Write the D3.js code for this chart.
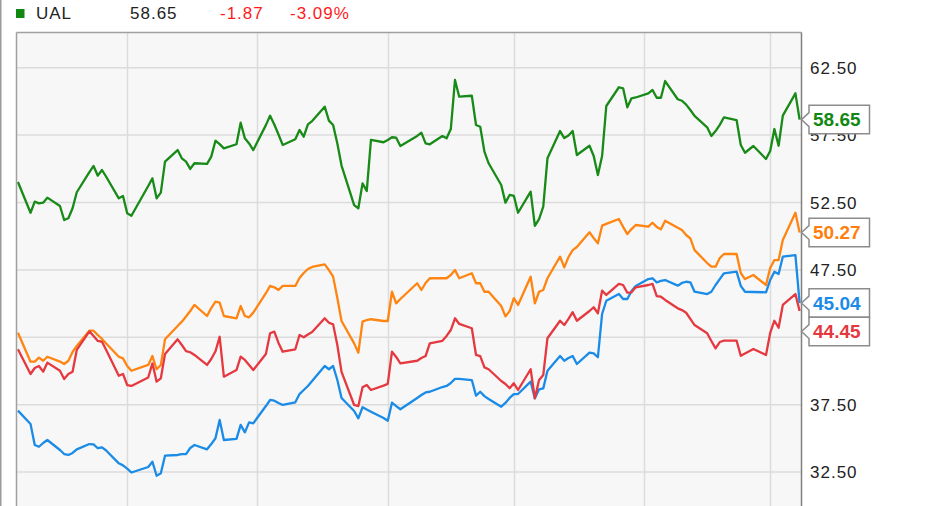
<!DOCTYPE html>
<html><head><meta charset="utf-8">
<script src="https://cdn.jsdelivr.net/npm/d3@7"></script>
<style>
body{margin:0;background:#fff;}
svg{display:block;font-family:Arial,"Liberation Sans",sans-serif;}
</style>
</head><body>
<svg id="c" width="931" height="506"></svg>
<script>
// ---- data ----
const tradingDays = [
 "06-05","06-08","06-09","06-10","06-11","06-12","06-15","06-16","06-17","06-18","06-19","06-22","06-23","06-24","06-25","06-26","06-29","06-30",
 "07-01","07-02","07-06","07-07","07-08","07-09","07-10","07-13","07-14","07-15","07-16","07-17","07-20","07-21","07-22","07-23","07-24","07-27","07-28","07-29","07-30","07-31",
 "08-03","08-04","08-05","08-06","08-07","08-10","08-11","08-12","08-13","08-14","08-17","08-18","08-19","08-20","08-21","08-24","08-25","08-26","08-27","08-28","08-31",
 "09-01","09-02","09-03","09-04","09-08","09-09","09-10","09-11","09-14","09-15","09-16","09-17","09-18","09-21","09-22","09-23","09-24","09-25","09-28","09-29","09-30",
 "10-01","10-02","10-05","10-06","10-07","10-08","10-09","10-12","10-13","10-14","10-15","10-16","10-19","10-20","10-21","10-22","10-23","10-26","10-27","10-28","10-29","10-30",
 "11-02","11-03","11-04","11-05","11-06","11-09","11-10","11-11","11-12","11-13","11-16","11-17","11-18","11-19","11-20","11-23","11-24","11-25","11-27","11-30",
 "12-01","12-02","12-03","12-04","12-07","12-08"
];
const year = 2015;

const greenValues = [
 54.02,51.74,52.56,52.44,52.49,52.86,52.24,51.20,51.33,52.07,53.26,54.76,55.21,54.49,54.91,54.41,52.81,52.98,
 51.70,51.52,53.72,54.29,52.81,53.23,55.53,56.39,55.78,55.53,54.99,55.41,55.36,55.90,57.08,56.83,56.52,56.82,58.42,57.26,56.88,56.39,
 58.24,58.94,58.29,57.54,56.77,57.19,57.88,57.38,58.30,58.54,59.61,58.57,58.25,56.88,55.24,52.31,52.07,53.92,53.35,57.14,56.97,
 57.14,57.34,57.31,56.69,57.44,57.68,56.89,56.82,57.43,57.26,57.95,61.59,60.35,60.42,58.25,58.12,56.27,55.41,53.80,52.49,53.06,
 53.00,51.74,53.30,50.76,51.27,52.19,55.78,57.80,57.28,57.47,57.80,56.02,56.71,55.95,54.54,55.95,59.66,61.05,60.97,59.56,60.23,60.29,
 60.60,60.85,60.27,60.27,61.51,60.16,60.05,59.76,59.36,58.92,58.08,57.43,57.80,58.26,58.82,58.62,56.77,56.19,56.69,55.73,
 56.32,57.95,56.71,58.94,60.60,58.65
];
const orangeValues = [
 42.84,40.69,40.69,40.99,40.76,41.06,40.70,40.52,40.76,41.41,41.86,42.99,42.99,42.67,42.38,42.04,41.06,40.94,
 40.37,40.02,40.45,41.11,40.13,40.45,42.35,43.34,43.66,44.04,44.45,44.90,44.08,44.67,45.14,45.07,44.08,43.91,44.82,44.08,43.98,44.33,
 45.77,46.31,46.21,46.01,46.31,46.31,46.90,47.27,47.57,47.72,47.91,47.49,47.00,45.42,43.71,42.05,41.36,43.66,43.78,43.84,43.71,
 43.71,45.88,45.02,45.34,46.51,46.01,46.53,46.88,46.88,46.88,47.12,47.49,46.88,47.25,46.51,46.51,45.88,45.88,44.82,44.05,44.44,
 45.41,44.90,46.99,45.02,45.88,46.01,46.88,48.48,47.69,48.45,48.97,49.20,50.29,49.86,49.47,50.78,50.91,51.28,50.69,50.16,50.53,50.83,
 50.71,51.00,50.69,50.51,51.15,50.63,50.46,50.09,49.84,48.97,48.01,47.74,47.74,48.38,48.68,48.68,47.27,46.82,47.12,46.38,
 47.64,48.23,48.23,49.72,51.74,50.27
];
const redValues = [
 41.61,39.78,40.22,40.37,39.95,40.62,40.02,39.41,39.78,39.95,41.56,42.94,42.60,42.23,42.17,41.56,39.65,39.78,
 38.96,38.89,39.52,40.57,39.21,39.46,41.26,42.35,41.93,41.48,41.39,41.19,40.45,40.89,41.46,42.54,39.58,40.07,41.06,40.82,40.45,40.07,
 41.26,42.80,42.92,42.08,41.43,41.61,42.67,42.50,42.71,42.89,43.91,43.58,43.46,41.93,39.93,37.48,37.40,38.79,38.96,38.59,38.92,
 39.04,41.43,41.04,40.57,40.76,40.96,41.11,42.05,42.24,42.60,43.04,43.91,43.49,43.17,41.19,41.11,40.27,40.13,39.26,39.04,38.72,
 39.09,38.59,40.13,37.97,39.33,39.70,42.43,43.73,43.41,43.86,44.36,43.73,44.45,44.73,44.28,45.96,45.64,46.46,46.38,45.81,45.84,46.21,
 46.38,46.46,45.56,45.51,45.27,44.65,44.52,44.32,43.86,43.41,42.80,42.23,41.68,42.15,42.25,42.25,41.13,41.30,41.63,41.19,
 42.82,43.73,43.21,44.90,45.71,44.45
];
const blueValues = [
 37.06,36.07,34.51,34.38,34.66,34.88,34.14,33.84,33.77,33.92,34.19,34.58,34.55,34.27,34.34,34.10,33.15,33.00,
 32.76,32.47,32.88,33.27,32.23,32.41,33.72,33.77,33.84,33.84,34.29,34.51,34.19,34.58,35.01,36.37,34.88,34.96,36.00,35.45,36.19,36.12,
 37.40,37.85,37.80,37.63,37.48,37.68,38.29,38.59,38.89,39.26,40.37,40.13,40.37,39.33,38.00,37.03,36.49,37.31,37.14,36.98,36.51,
 36.31,37.65,37.40,37.16,38.00,38.22,38.41,38.46,38.81,38.89,39.11,39.41,39.41,39.33,38.17,38.46,38.14,37.92,37.35,37.63,38.00,
 38.29,38.29,39.21,37.97,38.64,38.71,40.02,41.11,40.76,40.96,41.11,40.52,41.36,41.31,41.02,44.23,45.21,45.71,45.34,45.34,45.93,46.31,
 46.82,46.88,46.58,46.68,46.75,46.33,46.53,46.62,46.58,45.88,45.71,45.88,46.38,46.82,47.25,47.37,46.31,45.88,45.86,45.84,
 46.75,47.37,47.20,48.48,48.60,45.04
];
const yTickValues = [32.5, 37.5, 42.5, 47.5, 52.5, 57.5, 62.5];
const monthStarts = ["2015-07-01","2015-08-01","2015-09-01","2015-10-01","2015-11-01","2015-12-01"];
const header = {symbol: "UAL", last: "58.65", change: "-1.87", pct: "-3.09%"};

const seriesList = [
  {name: "orange", values: orangeValues, color: "#ff8411", text: "#ff7f0e"},
  {name: "blue",   values: blueValues,   color: "#1a8be6", text: "#1a8be6"},
  {name: "red",    values: redValues,    color: "#e5383f", text: "#e5383f"},
  {name: "green",  values: greenValues,  color: "#178a17", text: "#118811"}
];

// ---- layout ----
const W = 931, H = 506;
const plot = {left: 16.5, right: 801.5, top: 32.5, bottom: 510};
const parse = d3.timeParse("%Y-%m-%d");
const dates = tradingDays.map(d => parse(year + "-" + d));
const months = monthStarts.map(parse);

const x = d3.scaleTime()
  .domain([parse("2015-07-01"), parse("2015-12-01")])
  .range([127.2, 770.2]);
const y = d3.scaleLinear().domain([32.5, 62.5]).range([472.1, 67.7]);

const svg = d3.select("#c");

// page left border
svg.append("rect").attr("x", 0).attr("y", 0).attr("width", 1.5).attr("height", H).attr("fill", "#9a9a9a");

// plot background
svg.append("rect").attr("x", plot.left).attr("y", plot.top)
  .attr("width", plot.right - plot.left).attr("height", plot.bottom - plot.top)
  .attr("fill", "#f7f7f7");

// grid
const grid = svg.append("g");
grid.selectAll("line.v").data(months).enter().append("line")
  .attr("x1", d => Math.round(x(d)) + 0.5).attr("x2", d => Math.round(x(d)) + 0.5)
  .attr("y1", plot.top).attr("y2", plot.bottom)
  .attr("stroke", "#dcdcdc").attr("stroke-width", 1.5);
grid.selectAll("line.h").data(yTickValues).enter().append("line")
  .attr("x1", plot.left).attr("x2", plot.right)
  .attr("y1", d => y(d)).attr("y2", d => y(d))
  .attr("stroke", "#dcdcdc").attr("stroke-width", 1.5);

// clip
svg.append("clipPath").attr("id", "clip").append("rect")
  .attr("x", plot.left).attr("y", plot.top)
  .attr("width", plot.right - plot.left).attr("height", plot.bottom - plot.top);

const line = d3.line().x((d, i) => x(dates[i])).y(d => y(d));
const lines = svg.append("g").attr("clip-path", "url(#clip)");
seriesList.forEach(s => {
  lines.append("path").datum(s.values)
    .attr("d", line)
    .attr("fill", "none")
    .attr("stroke", s.color)
    .attr("stroke-width", 2.3)
    .attr("stroke-linejoin", "round");
});

// frame
svg.append("line").attr("x1", plot.left).attr("x2", plot.right).attr("y1", plot.top).attr("y2", plot.top)
  .attr("stroke", "#a0a0a0").attr("stroke-width", 1.5);
svg.append("line").attr("x1", plot.left).attr("x2", plot.left).attr("y1", plot.top).attr("y2", plot.bottom)
  .attr("stroke", "#a0a0a0").attr("stroke-width", 1.5);
svg.append("line").attr("x1", plot.right).attr("x2", plot.right).attr("y1", plot.top).attr("y2", plot.bottom)
  .attr("stroke", "#808080").attr("stroke-width", 1.5);

// y axis labels
svg.append("g").selectAll("text").data(yTickValues).enter().append("text")
  .attr("x", 810).attr("y", d => y(d))
  .attr("dy", "0.36em")
  .attr("font-size", 17).attr("letter-spacing", 1)
  .attr("fill", "#222")
  .text(d => d3.format(".2f")(d));

// price tags
const tagH = 28.5, tagX = 809, tagW = 60.5;
const tags = seriesList.map(s => ({s, v: s.values[s.values.length - 1]}))
  .map(t => ({...t, cy: y(t.v)}))
  .sort((a, b) => a.cy - b.cy);
for (let i = 1; i < tags.length; i++) {
  const minCy = tags[i - 1].cy + tagH;
  if (tags[i].cy < minCy) tags[i].cy = minCy;
}
const tg = svg.append("g");
tags.forEach(t => {
  const top = t.cy - tagH / 2, bot = t.cy + tagH / 2;
  tg.append("path")
    .attr("d", `M${plot.right},${t.cy} L${tagX},${t.cy - 7} L${tagX},${top} L${tagX + tagW},${top} L${tagX + tagW},${bot} L${tagX},${bot} L${tagX},${t.cy + 7} Z`)
    .attr("fill", "#fff").attr("stroke", "#8c8c8c").attr("stroke-width", 1.5);
  tg.append("text")
    .attr("x", tagX + 4).attr("y", t.cy).attr("dy", "0.36em")
    .attr("font-size", 19).attr("font-weight", "bold")
    .attr("fill", t.s.text)
    .text(d3.format(".2f")(t.v));
});

// header
svg.append("rect").attr("x", 16).attr("y", 9).attr("width", 8.5).attr("height", 9).attr("fill", "#118811");
const hdr = svg.append("g").attr("font-size", 17).attr("letter-spacing", 1);
hdr.append("text").attr("x", 36).attr("y", 13).attr("dy", "0.36em").attr("fill", "#222").text(header.symbol);
hdr.append("text").attr("x", 130).attr("y", 13).attr("dy", "0.36em").attr("fill", "#222").text(header.last);
hdr.append("text").attr("x", 220).attr("y", 13).attr("dy", "0.36em").attr("fill", "#ff1a1a").text(header.change);
hdr.append("text").attr("x", 290).attr("y", 13).attr("dy", "0.36em").attr("fill", "#ff1a1a").text(header.pct);
</script>
</body></html>
